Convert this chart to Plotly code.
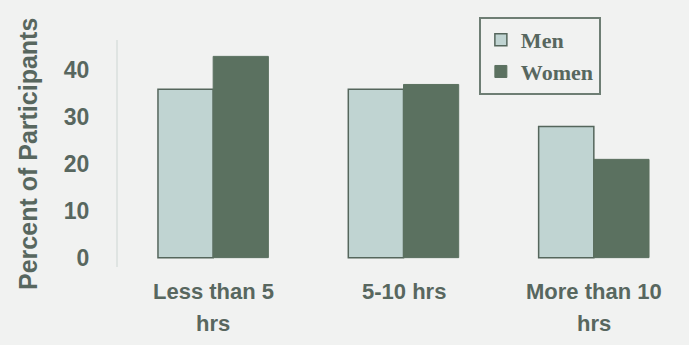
import plotly.graph_objects as go

categories = ["Less than 5 hrs", "5-10 hrs", "More than 10 hrs"]
label_line1 = ["Less than 5", "5-10 hrs", "More than 10"]
label_line2 = ["hrs", "", "hrs"]
men = [36, 36, 28]
women = [43, 37, 21]
y_ticks = [0, 10, 20, 30, 40]
y_title = "Percent of Participants"

text_color = "#58675f"
bg = "#f1f2f1"

fig = go.Figure()
fig.add_trace(go.Bar(
    x=categories, y=men, name="Men",
    marker=dict(color="#c0d4d2", line=dict(color="#55665c", width=1.5)),
))
fig.add_trace(go.Bar(
    x=categories, y=women, name="Women",
    marker=dict(color="#5b7160", line=dict(color="#5b7160", width=1)),
))

lab_font = dict(family="Liberation Sans", size=22, color=text_color, weight="bold")
annotations = []
for c, l1, l2 in zip(categories, label_line1, label_line2):
    annotations.append(dict(x=c, xref="x", y=-0.106, yref="paper", text=l1,
                            showarrow=False, xanchor="center", yanchor="middle", font=lab_font))
    if l2:
        annotations.append(dict(x=c, xref="x", y=-0.251, yref="paper", text=l2,
                                showarrow=False, xanchor="center", yanchor="middle", font=lab_font))
annotations.append(dict(x=-0.1576, xref="paper", y=0.498, yref="paper", text=y_title,
                        textangle=-90, showarrow=False, xanchor="center", yanchor="middle",
                        font=dict(family="Liberation Sans", size=25, color=text_color, weight="bold")))

fig.update_layout(
    width=689, height=345,
    margin=dict(l=118, r=0, t=40, b=78),
    paper_bgcolor=bg, plot_bgcolor=bg,
    barmode="group", bargap=0.42, bargroupgap=0,
    showlegend=True,
    legend=dict(x=0.632, y=1.101, xanchor="left", yanchor="top",
                bgcolor=bg, bordercolor="#6e7e74", borderwidth=2,
                font=dict(family="Liberation Serif", size=22, color=text_color, weight="bold"),
                tracegroupgap=5, itemwidth=30),
    annotations=annotations,
    xaxis=dict(showticklabels=False, showgrid=False, zeroline=False, showline=False,
               range=[-0.5, 2.5]),
    yaxis=dict(range=[-2, 46.5], tickvals=y_ticks, showgrid=False, zeroline=False,
               showline=True, linecolor="#dfe4e2", linewidth=2,
               ticklabelstandoff=22,
               tickfont=dict(family="Liberation Sans", size=23, color=text_color, weight="bold")),
)

fig.write_html("out.html")
